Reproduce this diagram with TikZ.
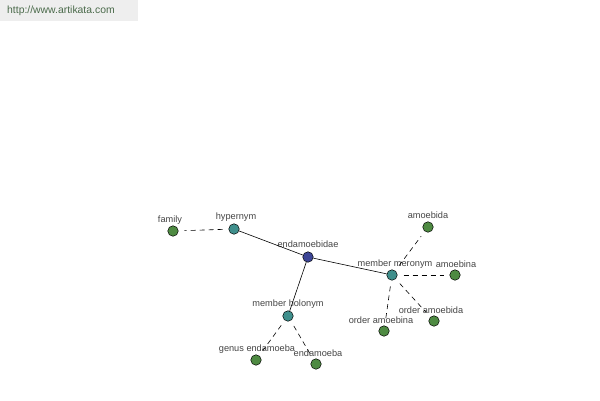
\documentclass[tikz,border=0pt]{standalone}
\usepackage{fontspec}
\setmainfont{Liberation Sans}
\definecolor{leaf}{HTML}{4E8A42}
\definecolor{rel}{HTML}{3F8F8C}
\definecolor{hub}{HTML}{3C4596}
\definecolor{txt}{HTML}{444444}
\definecolor{banner}{HTML}{EEEEEE}
\definecolor{url}{HTML}{4A6A4A}
\begin{document}
\begin{tikzpicture}[x=1pt,y=-1pt,
  vert/.style={circle,draw=black,line width=0.5pt,minimum size=10.5pt,inner sep=0pt},
  leafv/.style={vert,fill=leaf},
  relv/.style={vert,fill=rel},
  hubv/.style={vert,fill=hub},
  lab/.style={font=\fontsize{9.2}{10}\selectfont,text=txt,inner sep=0pt},
  solidedge/.style={draw=black,line width=0.6pt},
  dashedge/.style={draw=black,line width=0.6pt,dashed,dash pattern=on 5pt off 4pt,shorten <=6pt,shorten >=6pt}]
\useasboundingbox (0,0) rectangle (600,400);
\fill[banner] (0,0) rectangle (138,21);
\node[font=\fontsize{10.4}{12}\selectfont,text=url,anchor=west,inner sep=0pt] (url) at (7,11) {http://www.artikata.com};
% vertices
\node[leafv] (family) at (173,231) {};
\node[relv] (hyper) at (234,229) {};
\node[hubv] (endo) at (308,257) {};
\node[relv] (mero) at (392,275) {};
\node[leafv] (amoebida) at (428,227) {};
\node[leafv] (amoebina) at (455,275) {};
\node[leafv] (oamoebida) at (434,321) {};
\node[leafv] (oamoebina) at (384,331) {};
\node[relv] (holo) at (288,316) {};
\node[leafv] (genus) at (256,360) {};
\node[leafv] (endamoeba) at (316,364) {};
% labels
\node[lab] (lfamily) at (170,220) {family};
\node[lab] (lhyper) at (236,217) {hypernym};
\node[lab] (lendo) at (308,244) {endamoebidae};
\node[lab] (lmero) at (395,264) {member meronym};
\node[lab] (lamoebida) at (428,215) {amoebida};
\node[lab] (lamoebina) at (456,264) {amoebina};
\node[lab] (loamoebida) at (431,310) {order amoebida};
\node[lab] (loamoebina) at (381,320) {order amoebina};
\node[lab] (lholo) at (288,304) {member holonym};
\node[lab] (lgenus) at (257,349) {genus endamoeba};
\node[lab] (lendamoeba) at (318,353) {endamoeba};
% edges
\draw[solidedge] (hyper) -- (endo);
\draw[solidedge] (endo) -- (mero);
\draw[solidedge] (endo) -- (holo);
\draw[dashedge] (hyper) -- (family);
\draw[dashedge] (mero) -- (amoebida);
\draw[dashedge] (mero) -- (amoebina);
\draw[dashedge] (mero) -- (oamoebida);
\draw[dashedge] (mero) -- (oamoebina);
\draw[dashedge] (holo) -- (genus);
\draw[dashedge] (holo) -- (endamoeba);
\end{tikzpicture}
\end{document}
